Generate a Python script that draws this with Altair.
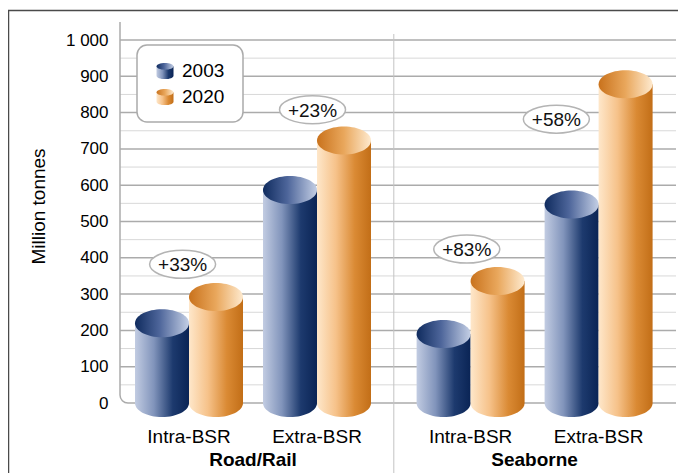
import altair as alt
import pandas as pd

# ---------------- data ----------------
groups = ["Road/Rail", "Seaborne"]
categories = ["Intra-BSR", "Extra-BSR"]
years = ["2003", "2020"]
values_2003 = [220, 587, 190, 547]
values_2020 = [292, 723, 336, 878]
growth_labels = ["+33%", "+23%", "+83%", "+58%"]
growth_label_value = [382, 808, 424, 782]       # where the bubble sits (data units)
growth_label_shift = [-0.05, -0.035, -0.03, -0.33]  # bubble offset from pair centre (slots)
y_major = list(range(0, 1001, 100))
y_minor = list(range(50, 1000, 100))
y_title = "Million tonnes"

# ---------------- layout ----------------
FONT = "Liberation Sans"
W, H = 556, 363
STEP = 128.0      # px between category slots
FIRST = 69.0      # px from axis to first slot
GAP = 0.2         # extra slot gap between groups
BAR_W = 54.0
HALF = BAR_W / STEP

x_scale = alt.Scale(domain=[-FIRST / STEP, (W - FIRST) / STEP], nice=False, zero=False)
y_scale = alt.Scale(domain=[0, 1000], nice=False, zero=True)
y_axis = alt.Axis(values=y_major, ticks=False, tickSize=0, domain=False, grid=False,
                  labelExpr="datum.value === 1000 ? '1 000' : datum.label",
                  labelPadding=12, labelFontSize=17, labelFont=FONT, labelColor="#000",
                  title=y_title, titleFont=FONT, titleFontSize=19,
                  titleFontWeight="normal", titleColor="#000",
                  titleX=-82, titleY=166, titleAlign="center", titleBaseline="middle")


def XQ(f):
    return alt.X(f, type="quantitative", scale=x_scale, axis=None)


def YQ(f):
    return alt.Y(f, type="quantitative", scale=y_scale, axis=y_axis)


def grad(stops):
    return alt.Gradient(gradient="linear", x1=0, y1=0, x2=1, y2=0,
                        stops=[alt.GradientStop(offset=o, color=c) for o, c in stops])


blue_side = grad([(0, "#c2cce2"), (0.35, "#8194bb"), (0.7, "#1d3a6e"), (1, "#0a2455")])
blue_top = grad([(0, "#0f2b5e"), (0.45, "#4d659a"), (1, "#c4cfe5")])
orange_side = grad([(0, "#fee7ca"), (0.35, "#f6c28a"), (0.7, "#da8a34"), (1, "#c26e17")])
orange_top = grad([(0, "#c9721c"), (0.5, "#e9a75c"), (1, "#feeacf")])
year_style = {"2003": (blue_side, blue_top), "2020": (orange_side, orange_top)}

RY = 14.0 / 27.0
ELL = f"M -1 0 A 1 {RY:.3f} 0 1 1 1 0 A 1 {RY:.3f} 0 1 1 -1 0 Z"
LOWER = f"M -1 0 A 1 {RY:.3f} 0 0 0 1 0 Z"
LRY = 14.0 / 33.0
LAB_ELL = f"M -1 0 A 1 {LRY:.3f} 0 1 1 1 0 A 1 {LRY:.3f} 0 1 1 -1 0 Z"
ICON_BODY = "M -1 -0.55 L -1 0.55 A 1 0.4 0 0 0 1 0.55 L 1 -0.55 Z"
ICON_TOP = "M -1 -0.55 A 1 0.4 0 1 1 1 -0.55 A 1 0.4 0 1 1 -1 -0.55 Z"
CORNER = "M 0 -1 A 1 1 0 0 0 1 0"

# ---------------- tables ----------------
rows, pairs = [], []
for g_i, g in enumerate(groups):
    for c_i, c in enumerate(categories):
        i = g_i * len(categories) + c_i
        slot = i + GAP * g_i
        pairs.append(dict(group=g, category=c, slot=slot, label=growth_labels[i],
                          lx=slot + growth_label_shift[i], lv=growth_label_value[i]))
        for y_i, (yr, vals) in enumerate(zip(years, [values_2003, values_2020])):
            x0 = slot - HALF + y_i * HALF
            rows.append(dict(group=g, category=c, year=yr, value=vals[i], zero=0,
                             x0=x0, x1=x0 + HALF, xc=x0 + HALF / 2))
bars = pd.DataFrame(rows)
pairs = pd.DataFrame(pairs)
group_pos = pairs.groupby("group", sort=False)["slot"].mean().reset_index()
sep = pd.DataFrame({"s": [(pairs["slot"].iloc[1] + pairs["slot"].iloc[2]) / 2]})
one = pd.DataFrame({"a": [0]})

layers = []

# major grid (carries the y axis)
major = pd.DataFrame({"v": [v for v in y_major if v > 0]})
layers.append(
    alt.Chart(major).mark_rule(color="#ababab", strokeWidth=1.5).encode(
        y=YQ("v:Q"), x=alt.value(0), x2=alt.value(W))
)
# frame
layers.append(
    alt.Chart(one).mark_rect(filled=False, stroke="#4a4a4a", strokeWidth=1.5).encode(
        x=alt.value(-111.5), x2=alt.value(W + 40), y=alt.value(-29.5), y2=alt.value(H + 200))
)
# minor grid
layers.append(
    alt.Chart(pd.DataFrame({"v": y_minor})).mark_rule(color="#d8d8d8", strokeWidth=1).encode(
        y=YQ("v:Q"), x=alt.value(0), x2=alt.value(W))
)
# zero line, axis line, rounded corner
layers.append(
    alt.Chart(pd.DataFrame({"v": [0]})).mark_rule(color="#ababab", strokeWidth=1.5).encode(
        y=YQ("v:Q"), x=alt.value(8), x2=alt.value(W))
)
layers.append(
    alt.Chart(one).mark_rule(color="#ababab", strokeWidth=1.5).encode(
        x=alt.value(0), y=alt.value(-18), y2=alt.value(H - 8))
)
layers.append(
    alt.Chart(pd.DataFrame({"v": [0]})).mark_point(shape=CORNER, size=256, filled=False,
                                                    stroke="#ababab", strokeWidth=1.5, opacity=1).encode(
        x=alt.value(0), y=YQ("v:Q"))
)
# group separator
layers.append(
    alt.Chart(sep).mark_rule(color="#c4c4c4", strokeWidth=1).encode(
        x=XQ("s:Q"), y=alt.value(-6), y2=alt.value(H + 70))
)

# cylinders
for yr in years:
    side_g, top_g = year_style[yr]
    d = bars[bars["year"] == yr]
    layers.append(
        alt.Chart(d).mark_bar(fill=side_g, strokeWidth=0).encode(
            x=XQ("x0:Q"), x2=alt.X2("x1"), y=YQ("value:Q"), y2=alt.Y2("zero"))
    )
    layers.append(
        alt.Chart(d).mark_point(shape=LOWER, size=BAR_W ** 2, filled=True, fill=side_g,
                                strokeWidth=0, opacity=1).encode(x=XQ("xc:Q"), y=YQ("zero:Q"))
    )
    layers.append(
        alt.Chart(d).mark_point(shape=ELL, size=BAR_W ** 2, filled=True, fill=top_g,
                                strokeWidth=0, opacity=1).encode(x=XQ("xc:Q"), y=YQ("value:Q"))
    )

# growth bubbles
layers.append(
    alt.Chart(pairs).mark_point(shape=LAB_ELL, size=66 ** 2, filled=True, fill="white",
                                stroke="#b4b4b4", strokeWidth=1.5, opacity=1).encode(
        x=XQ("lx:Q"), y=YQ("lv:Q"))
)
layers.append(
    alt.Chart(pairs).mark_text(font=FONT, fontSize=19, color="#111", baseline="middle", dy=1).encode(
        x=XQ("lx:Q"), y=YQ("lv:Q"), text="label:N")
)

# category + group labels
layers.append(
    alt.Chart(pairs).mark_text(font=FONT, fontSize=19, color="#000", baseline="middle").encode(
        x=XQ("slot:Q"), y=alt.value(H + 34), text="category:N")
)
layers.append(
    alt.Chart(group_pos).mark_text(font=FONT, fontSize=19, fontWeight="bold", color="#000",
                                   baseline="middle").encode(
        x=XQ("slot:Q"), y=alt.value(H + 57), text="group:N")
)

# legend
layers.append(
    alt.Chart(one).mark_rect(fill="white", stroke="#ababab", strokeWidth=1.5, cornerRadius=10).encode(
        x=alt.value(17), x2=alt.value(123), y=alt.value(5), y2=alt.value(82))
)
for i, yr in enumerate(years):
    side_g, top_g = year_style[yr]
    ypx = 31 + 26 * i
    ld = pd.DataFrame({"year": [yr]})
    layers.append(
        alt.Chart(ld).mark_point(shape=ICON_BODY, size=17 ** 2, filled=True, fill=side_g,
                                 strokeWidth=0, opacity=1).encode(x=alt.value(45), y=alt.value(ypx))
    )
    layers.append(
        alt.Chart(ld).mark_point(shape=ICON_TOP, size=17 ** 2, filled=True, fill=top_g,
                                 strokeWidth=0, opacity=1).encode(x=alt.value(45), y=alt.value(ypx))
    )
    layers.append(
        alt.Chart(ld).mark_text(font=FONT, fontSize=19, color="#000", align="left",
                                baseline="middle").encode(x=alt.value(62), y=alt.value(ypx),
                                                          text="year:N")
    )

chart = alt.layer(*layers).properties(
    width=W, height=H,
    padding={"left": 112, "top": 32, "right": 2, "bottom": 70},
    autosize=alt.AutoSizeParams(type="none"),
    background="white",
).configure_view(strokeWidth=0)

chart.save("out.html", embed_options={"renderer": "svg", "actions": False})
